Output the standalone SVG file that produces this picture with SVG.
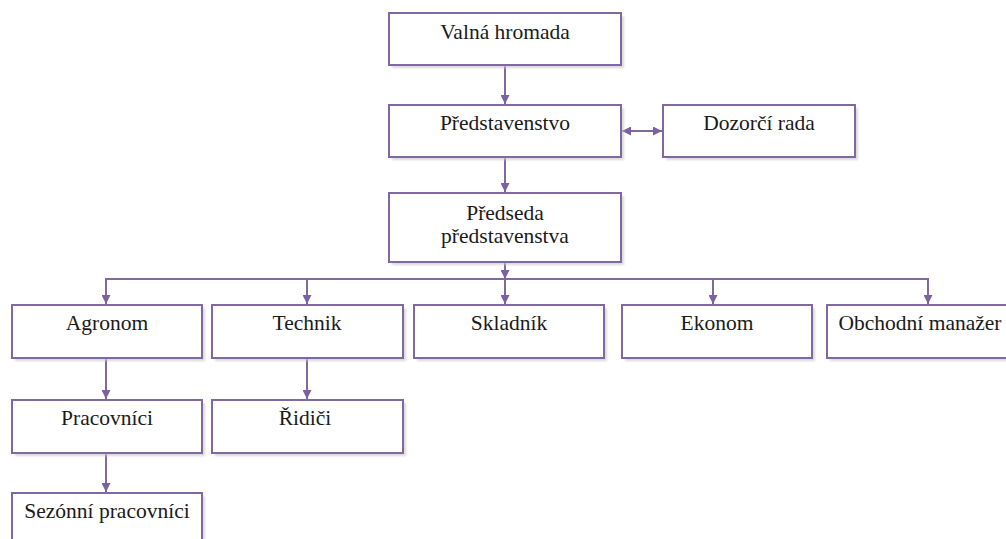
<svg xmlns="http://www.w3.org/2000/svg" width="1006" height="539" viewBox="0 0 1006 539">
<style>
.box{fill:#fff;stroke:#8068a0;stroke-width:2}
.sh{fill:#c9c9c9;opacity:.7}
.lbl{font-family:'Liberation Serif','Times New Roman',serif;font-size:21.5px;fill:#1a1a1a;text-anchor:middle}
.c{stroke:#8068a0;stroke-width:2;fill:none}
</style>
<defs>
<marker id="ah" viewBox="0 0 10 10" refX="10" refY="5" markerWidth="9" markerHeight="9" markerUnits="userSpaceOnUse" orient="auto-start-reverse">
<path d="M0,0 L10,5 L0,10 z" fill="#7a62a0"/>
</marker>
<filter id="blur" x="-5%" y="-5%" width="110%" height="120%"><feGaussianBlur stdDeviation="1"/></filter>
</defs>
<rect width="1006" height="539" fill="#fff"/>
<g id="connectors">
<line class="c" x1="505" y1="65" x2="505" y2="104" marker-end="url(#ah)"/>
<line class="c" x1="622" y1="131" x2="662" y2="131" marker-start="url(#ah)" marker-end="url(#ah)"/>
<line class="c" x1="505" y1="157" x2="505" y2="192" marker-end="url(#ah)"/>
<line class="c" x1="505" y1="262" x2="505" y2="279" marker-end="url(#ah)"/>
<polyline class="c" points="106,304 106,279 928,279 928,304"/>
<line class="c" x1="106" y1="279" x2="106" y2="304" marker-end="url(#ah)"/>
<line class="c" x1="307" y1="279" x2="307" y2="304" marker-end="url(#ah)"/>
<line class="c" x1="505" y1="279" x2="505" y2="304" marker-end="url(#ah)"/>
<line class="c" x1="713" y1="279" x2="713" y2="304" marker-end="url(#ah)"/>
<line class="c" x1="928" y1="279" x2="928" y2="304" marker-end="url(#ah)"/>
<line class="c" x1="106" y1="358" x2="106" y2="399" marker-end="url(#ah)"/>
<line class="c" x1="307" y1="358" x2="307" y2="399" marker-end="url(#ah)"/>
<line class="c" x1="106" y1="453" x2="106" y2="492" marker-end="url(#ah)"/>
</g>
<g id="valna-hromada">
<rect class="sh" x="392" y="16" width="232" height="52" filter="url(#blur)"/>
<rect class="box" x="389" y="13" width="232" height="52"/>
<text class="lbl" x="505" y="39">Valná hromada</text>
</g>
<g id="predstavenstvo">
<rect class="sh" x="392" y="108" width="232" height="52" filter="url(#blur)"/>
<rect class="box" x="389" y="105" width="232" height="52"/>
<text class="lbl" x="505" y="130">Představenstvo</text>
</g>
<g id="dozorci-rada">
<rect class="sh" x="666" y="108" width="192" height="52" filter="url(#blur)"/>
<rect class="box" x="663" y="105" width="192" height="52"/>
<text class="lbl" x="759" y="130">Dozorčí rada</text>
</g>
<g id="predseda">
<rect class="sh" x="392" y="196" width="232" height="69" filter="url(#blur)"/>
<rect class="box" x="389" y="193" width="232" height="69"/>
<text class="lbl" x="505" y="220">Předseda</text>
<text class="lbl" x="505" y="243">představenstva</text>
</g>
<g id="agronom">
<rect class="sh" x="15" y="308" width="190" height="53" filter="url(#blur)"/>
<rect class="box" x="12" y="305" width="190" height="53"/>
<text class="lbl" x="107" y="330">Agronom</text>
</g>
<g id="technik">
<rect class="sh" x="215" y="308" width="191" height="53" filter="url(#blur)"/>
<rect class="box" x="212" y="305" width="191" height="53"/>
<text class="lbl" x="307" y="330">Technik</text>
</g>
<g id="skladnik">
<rect class="sh" x="417" y="308" width="190" height="53" filter="url(#blur)"/>
<rect class="box" x="414" y="305" width="190" height="53"/>
<text class="lbl" x="509" y="330">Skladník</text>
</g>
<g id="ekonom">
<rect class="sh" x="625" y="308" width="190" height="53" filter="url(#blur)"/>
<rect class="box" x="622" y="305" width="190" height="53"/>
<text class="lbl" x="717" y="330">Ekonom</text>
</g>
<g id="obchodni-manazer">
<rect class="sh" x="830" y="308" width="190" height="53" filter="url(#blur)"/>
<rect class="box" x="827" y="305" width="190" height="53"/>
<text class="lbl" x="920" y="330">Obchodní manažer</text>
</g>
<g id="pracovnici">
<rect class="sh" x="15" y="403" width="190" height="53" filter="url(#blur)"/>
<rect class="box" x="12" y="400" width="190" height="53"/>
<text class="lbl" x="107" y="425">Pracovníci</text>
</g>
<g id="ridici">
<rect class="sh" x="215" y="403" width="191" height="53" filter="url(#blur)"/>
<rect class="box" x="212" y="400" width="191" height="53"/>
<text class="lbl" x="305" y="425">Řidiči</text>
</g>
<g id="sezonni-pracovnici">
<rect class="sh" x="15" y="496" width="190" height="53" filter="url(#blur)"/>
<rect class="box" x="12" y="493" width="190" height="53"/>
<text class="lbl" x="107" y="518">Sezónní pracovníci</text>
</g>
</svg>
